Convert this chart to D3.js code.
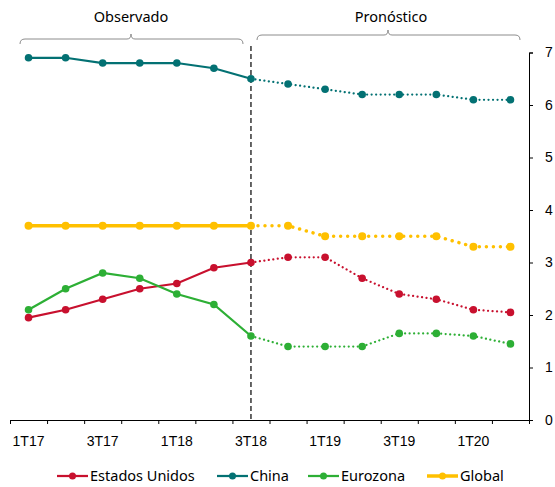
<!DOCTYPE html>
<html>
<head>
    <title>Crecimiento observado y pronóstico</title>
    <script src="https://cdn.jsdelivr.net/npm/d3@7"></script>
    <style>
        body { margin: 0; background: #fff; }
        svg { font-family: "Noto Sans", sans-serif; }
        .axis path, .axis line { stroke: #000; stroke-width: 1; }
        .axis text { font-size: 14px; fill: #000; }
        .header { font-size: 14.5px; fill: #000; }
        .legend text { font-size: 14.5px; fill: #000; }
    </style>
</head>
<body>
<div id="chart"></div>
<script>
    const quarters = ['1T17', '2T17', '3T17', '4T17', '1T18', '2T18', '3T18',
        '4T18', '1T19', '2T19', '3T19', '4T19', '1T20', '2T20'];
    const estadosUnidos = [1.95, 2.1, 2.3, 2.5, 2.6, 2.9, 3.0, 3.1, 3.1, 2.7, 2.4, 2.3, 2.1, 2.05];
    const china = [6.9, 6.9, 6.8, 6.8, 6.8, 6.7, 6.5, 6.4, 6.3, 6.2, 6.2, 6.2, 6.1, 6.1];
    const eurozona = [2.1, 2.5, 2.8, 2.7, 2.4, 2.2, 1.6, 1.4, 1.4, 1.4, 1.65, 1.65, 1.6, 1.45];
    const global = [3.7, 3.7, 3.7, 3.7, 3.7, 3.7, 3.7, 3.7, 3.5, 3.5, 3.5, 3.5, 3.3, 3.3];
    const yTicks = [0, 1, 2, 3, 4, 5, 6, 7];
    const lastObserved = '3T18';

    const series = [
        { name: 'Estados Unidos', values: estadosUnidos, color: '#C8102E', w: 2.25, r: 3.8 },
        { name: 'China', values: china, color: '#037173', w: 2.25, r: 3.8 },
        { name: 'Eurozona', values: eurozona, color: '#2DAF35', w: 2.25, r: 3.8 },
        { name: 'Global', values: global, color: '#FFC000', w: 3.5, r: 4 }
    ];

    const width = 555, height = 487;
    const plot = { left: 10, right: 529, top: 52.5, bottom: 420 };

    const svg = d3.select('#chart').append('svg')
        .attr('width', width)
        .attr('height', height);

    const x = d3.scaleBand().domain(quarters).range([plot.left, plot.right]).padding(0);
    const cx = q => x(q) + x.bandwidth() / 2;
    const y = d3.scaleLinear().domain([0, 7]).range([plot.bottom, plot.top]);

    // x axis: ticks between categories, labels on every other quarter
    const xTicks = d3.scaleLinear().domain([0, quarters.length]).range([plot.left, plot.right]);
    svg.append('g')
        .attr('class', 'axis')
        .attr('transform', `translate(0,${plot.bottom})`)
        .call(d3.axisBottom(xTicks)
            .tickValues(d3.range(quarters.length + 1))
            .tickFormat('')
            .tickSizeInner(4)
            .tickSizeOuter(0));

    const xLabels = svg.append('g')
        .attr('class', 'axis')
        .attr('transform', `translate(0,${plot.bottom})`)
        .call(d3.axisBottom(x)
            .tickSize(0)
            .tickPadding(16)
            .tickFormat((d, i) => i % 2 === 0 ? d : ''));
    xLabels.select('.domain').remove();

    // y axis on the right
    svg.append('g')
        .attr('class', 'axis')
        .attr('transform', `translate(${plot.right},0)`)
        .call(d3.axisRight(y)
            .tickValues(yTicks)
            .tickFormat(d3.format('d'))
            .tickSize(4)
            .tickPadding(12));

    // split between observed and forecast
    const splitX = cx(lastObserved);
    svg.append('line')
        .attr('x1', splitX).attr('x2', splitX)
        .attr('y1', 46).attr('y2', plot.bottom)
        .attr('stroke', '#000')
        .attr('stroke-width', 1.2)
        .attr('stroke-dasharray', '5,3');

    // braces above the plot
    function brace(x1, x2, yy, xm) {
        const r = 5;
        return `M${x1},${yy + r} Q${x1},${yy} ${x1 + r},${yy} L${xm - 4},${yy} ` +
            `Q${xm},${yy} ${xm},${yy - 5} Q${xm},${yy} ${xm + 4},${yy} ` +
            `L${x2 - r},${yy} Q${x2},${yy} ${x2},${yy + r}`;
    }
    svg.append('path')
        .attr('d', brace(20, 243, 39, 131))
        .attr('fill', 'none').attr('stroke', '#8c8c8c').attr('stroke-width', 1);
    svg.append('path')
        .attr('d', brace(257, 520, 35, 388))
        .attr('fill', 'none').attr('stroke', '#8c8c8c').attr('stroke-width', 1);

    svg.append('text').attr('class', 'header')
        .attr('x', 131).attr('y', 22).attr('text-anchor', 'middle').text('Observado');
    svg.append('text').attr('class', 'header')
        .attr('x', 391).attr('y', 22).attr('text-anchor', 'middle').text('Pronóstico');

    // lines
    const split = quarters.indexOf(lastObserved);
    const line = d3.line().x(d => cx(d.q)).y(d => y(d.v));

    series.forEach(s => {
        const pts = s.values.map((v, i) => ({ q: quarters[i], v }));
        const g = svg.append('g');
        g.append('path')
            .datum(pts.slice(0, split + 1))
            .attr('d', line)
            .attr('fill', 'none')
            .attr('stroke', s.color)
            .attr('stroke-width', s.w);
        // round dots for the forecast part
        g.append('path')
            .datum(pts.slice(split))
            .attr('d', line)
            .attr('fill', 'none')
            .attr('stroke', s.color)
            .attr('stroke-width', s.w)
            .attr('stroke-linecap', 'round')
            .attr('stroke-dasharray', `0.01,${s.w * 2}`);
        g.selectAll('circle')
            .data(pts)
            .join('circle')
            .attr('cx', d => cx(d.q))
            .attr('cy', d => y(d.v))
            .attr('r', s.r)
            .attr('fill', s.color);
    });

    // legend
    const legendX = [57, 217, 308, 427];
    const legend = svg.append('g').attr('class', 'legend');
    series.forEach((s, i) => {
        const g = legend.append('g').attr('transform', `translate(${legendX[i]},476)`);
        g.append('line')
            .attr('x1', 0).attr('x2', 31)
            .attr('stroke', s.color)
            .attr('stroke-width', s.w);
        g.append('circle').attr('cx', 15.5).attr('r', 3.5).attr('fill', s.color);
        g.append('text').attr('x', 33).attr('y', 5).text(s.name);
    });
</script>
</body>
</html>
